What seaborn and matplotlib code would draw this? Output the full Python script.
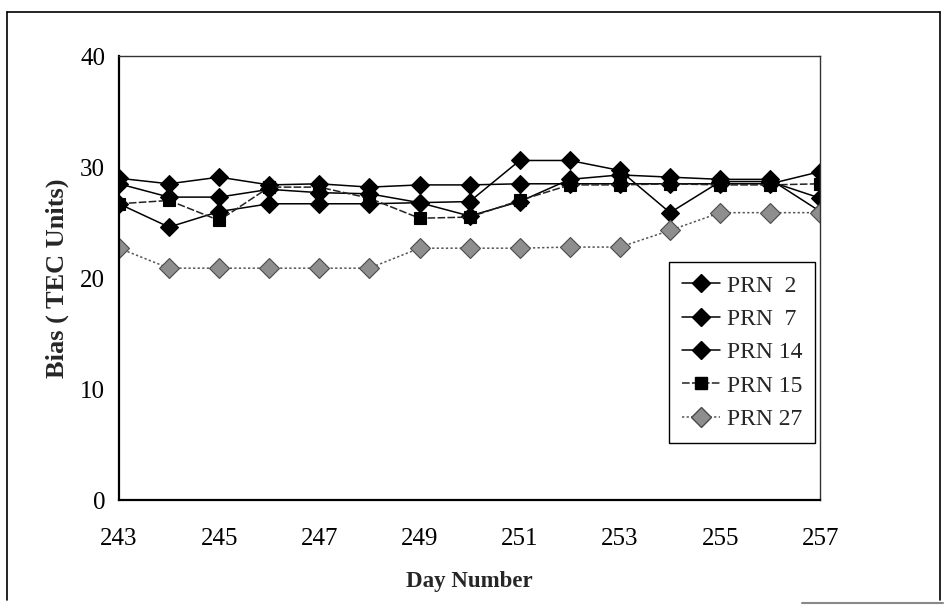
import numpy as np
import pandas as pd
import matplotlib
matplotlib.use('Agg')
import matplotlib.pyplot as plt
from matplotlib.lines import Line2D
import seaborn as sns

# data
days = [243, 244, 245, 246, 247, 248, 249, 250, 251, 252, 253, 254, 255, 256, 257]
prn2 = [29.0, 28.5, 29.1, 28.4, 28.5, 28.2, 28.4, 28.4, 28.5, 28.5, 28.5, 28.5, 28.5, 28.5, 29.6]
prn7 = [28.5, 27.3, 27.3, 28.0, 27.7, 27.6, 26.8, 26.9, 30.6, 30.6, 29.7, 25.9, 28.7, 28.7, 27.2]
prn14 = [26.7, 24.6, 26.0, 26.7, 26.7, 26.7, 26.8, 25.6, 26.9, 28.9, 29.3, 29.1, 28.9, 28.9, 26.0]
prn15 = [26.7, 27.0, 25.2, 28.2, 28.2, 27.2, 25.4, 25.5, 27.0, 28.4, 28.4, 28.5, 28.4, 28.4, 28.5]
prn27 = [22.7, 20.9, 20.9, 20.9, 20.9, 20.9, 22.7, 22.7, 22.7, 22.8, 22.8, 24.3, 25.9, 25.9, 25.9]
series_names = ['PRN  2', 'PRN  7', 'PRN 14', 'PRN 15', 'PRN 27']
x_ticks = [243, 245, 247, 249, 251, 253, 255, 257]
y_ticks = [0, 10, 20, 30, 40]

df = pd.DataFrame({'day': days, 'PRN  2': prn2, 'PRN  7': prn7, 'PRN 14': prn14,
                   'PRN 15': prn15, 'PRN 27': prn27})
df = df.melt(id_vars='day', var_name='prn', value_name='bias')

sns.set_style('white')
plt.rcParams['font.family'] = ['Liberation Serif', 'DejaVu Serif']

styles = {
    'PRN  2': dict(marker='D', ms=9, mfc='black', mec='black', ls='-', color='black'),
    'PRN  7': dict(marker='D', ms=9, mfc='black', mec='black', ls='-', color='black'),
    'PRN 14': dict(marker='D', ms=9, mfc='black', mec='black', ls='-', color='black'),
    'PRN 15': dict(marker='s', ms=9, mfc='black', mec='black', ls=(0, (5, 1.5)), color='#222222'),
    'PRN 27': dict(marker='D', ms=10, mfc='#8e8e8e', mec='#4a4a4a', ls=(0, (1.5, 1.5)), color='#555555'),
}

fig = plt.figure(figsize=(9.44, 6.1), dpi=100)
ax = fig.add_axes([0.126, 0.180, 0.743, 0.728])

for name in series_names:
    st = styles[name]
    sub = df[df['prn'] == name]
    sns.lineplot(data=sub, x='day', y='bias', ax=ax, color=st['color'], linestyle=st['ls'],
                 linewidth=1.1, marker=st['marker'], markersize=st['ms'],
                 markerfacecolor=st['mfc'], markeredgecolor=st['mec'], markeredgewidth=0.8,
                 label=name, legend=False, errorbar=None)

ax.set_xlim(243, 257)
ax.set_ylim(0, 40)
ax.set_xticks(x_ticks)
ax.set_yticks(y_ticks)
ax.tick_params(direction='out', length=5, width=1, labelsize=18, colors='black')
ax.tick_params(axis='y', pad=5)
ax.tick_params(axis='x', pad=15)
ax.set_xlabel('Day Number', fontsize=16.5, fontweight='bold', labelpad=15)
ax.set_ylabel('Bias ( TEC Units)', fontsize=19, fontweight='bold', labelpad=8)
for side in ['left', 'bottom']:
    ax.spines[side].set_linewidth(1.6)
    ax.spines[side].set_color('black')
for side in ['top', 'right']:
    ax.spines[side].set_linewidth(1.0)
    ax.spines[side].set_color('#333333')

handles = []
for name in series_names:
    st = styles[name]
    handles.append(Line2D([], [], color=st['color'], linestyle=st['ls'], linewidth=1.1,
                          marker=st['marker'], markersize=st['ms'], markerfacecolor=st['mfc'],
                          markeredgecolor=st['mec']))
leg = ax.legend(handles, series_names, loc='upper right', bbox_to_anchor=(0.993, 0.536),
                borderaxespad=0, fontsize=17, frameon=True, fancybox=False, shadow=False,
                framealpha=1, edgecolor='black', handlelength=1.6, labelspacing=0.5,
                borderpad=0.55, handletextpad=0.3)
leg.get_frame().set_linewidth(1.0)

# outer chart border
fig.add_artist(Line2D([0.007, 0.007], [0.017, 0.980], color='black', lw=1.2))
fig.add_artist(Line2D([0.007, 0.996], [0.980, 0.980], color='black', lw=1.2))
fig.add_artist(Line2D([0.996, 0.996], [0.017, 0.980], color='black', lw=1.2))
fig.add_artist(Line2D([0.85, 0.999], [0.012, 0.012], color='#888888', lw=1.5))

fig.savefig('out.png', dpi=100)
